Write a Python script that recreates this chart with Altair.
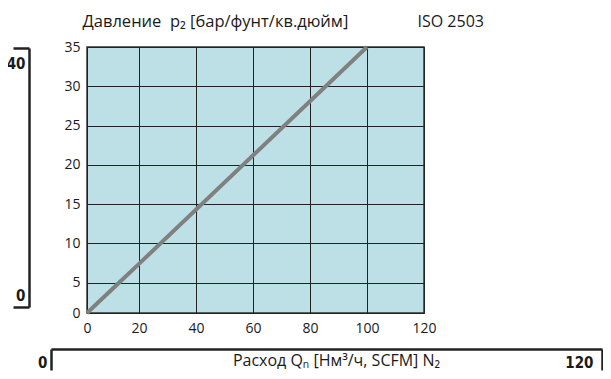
import altair as alt
import pandas as pd

# ---- data ----
flow_ticks = [0, 20, 40, 60, 80, 100, 120]          # m3/h axis tick labels
pressure_ticks = [0, 5, 10, 15, 20, 25, 30, 35]     # bar axis tick labels
line_flow = [0, 12.3, 20, 100]                      # points on the characteristic
line_pressure = [0, 5, 7.4, 35]
bar_bracket = [0, 40]                               # left bracket scale (bar)
flow_bracket = [0, 120]                             # bottom bracket scale

y_title = "Давление\u00a0 p₂ [бар/фунт/кв.дюйм]"
x_title = "Расход Qₙ [Нм³/ч, SCFM] N₂"
iso_label = "ISO 2503"

W, H = 337, 266
TEXT = "#1a1a1a"
BOLD_FONT = "DejaVu Sans Condensed, Liberation Sans Narrow, DejaVu Sans, sans-serif"

line_df = pd.DataFrame({"flow": line_flow, "pressure": line_pressure})

main = alt.Chart(line_df).mark_line(color="#808080", strokeWidth=4, strokeCap="butt").encode(
    x=alt.X(
        "flow:Q",
        scale=alt.Scale(domain=[0, 20, 120], range=[0, 52, W], nice=False, zero=False),
        axis=alt.Axis(
            values=flow_ticks, grid=True, gridColor="#222222", gridWidth=1,
            ticks=False, tickSize=0, domain=False, labelFlush=False,
            labelPadding=8, labelFontSize=14, labelColor=TEXT,
            title=iso_label, titleX=330, titleY=-292, titleAlign="left",
            titleBaseline="middle", titleFontSize=16, titleFontWeight="normal",
            titleColor=TEXT,
        ),
    ),
    y=alt.Y(
        "pressure:Q",
        scale=alt.Scale(domain=[0, 5, 35], range=[H, 235.7, 0], nice=False, zero=False),
        axis=alt.Axis(
            values=pressure_ticks, grid=True, gridColor="#222222", gridWidth=1,
            ticks=False, tickSize=0, domain=False, labelFlush=False,
            labelPadding=7, labelFontSize=14, labelColor=TEXT,
            title=y_title, titleAngle=0, titleX=-5, titleY=-26, titleAlign="left",
            titleBaseline="middle", titleFontSize=16.5, titleFontWeight="normal",
            titleColor=TEXT,
        ),
    ),
)

left_bracket = alt.Chart(pd.DataFrame({"bar": bar_bracket})).mark_point(opacity=0).encode(
    y=alt.Y(
        "bar:Q",
        scale=alt.Scale(domain=[0, 40], range=[260, 1], nice=False, zero=False),
        axis=alt.Axis(
            orient="left", offset=58, values=bar_bracket, grid=False,
            domainColor="#222222", domainWidth=2.5, tickColor="#222222",
            tickWidth=2.5, tickSize=16, labelFlush=False,
            labelFont=BOLD_FONT, labelFontWeight="bold", labelFontSize=15,
            labelColor=TEXT, labelPadding=-12, labelBaseline="middle",
            labelOffset={"condition": {"test": "datum.value == 0", "value": -12}, "value": 15},
            title=None,
        ),
    )
)

bottom_bracket = alt.Chart(pd.DataFrame({"flow": flow_bracket})).mark_point(opacity=0).encode(
    x=alt.X(
        "flow:Q",
        scale=alt.Scale(domain=[0, 120], range=[-36, 515], nice=False, zero=False),
        axis=alt.Axis(
            orient="bottom", offset=36, values=flow_bracket, grid=False,
            domainColor="#222222", domainWidth=2.5, tickColor="#222222",
            tickWidth=2.5, tickSize=21, labelFlush=False,
            labelFont=BOLD_FONT, labelFontWeight="bold", labelFontSize=15,
            labelColor=TEXT, labelPadding=-8, labelBaseline="middle", labelAlign="right",
            labelOffset={"condition": {"test": "datum.value == 0", "value": -4}, "value": -9},
            title=x_title, titleX=249, titleY=11, titleAlign="center",
            titleBaseline="middle", titleFontSize=16, titleFontWeight="normal",
            titleColor=TEXT,
        ),
    )
)

chart = (
    alt.layer(main, left_bracket, bottom_bracket)
    .resolve_scale(x="independent", y="independent")
    .properties(
        width=W, height=H,
        padding={"left": 79, "top": 39, "right": 179, "bottom": 58},
        autosize=alt.AutoSizeParams(type="none"),
    )
    .configure(font="Open Sans")
    .configure_view(fill="#bde0e6", stroke="#333333", strokeWidth=1.5)
)

chart.save("out.html", embed_options={"renderer": "svg", "actions": False})
